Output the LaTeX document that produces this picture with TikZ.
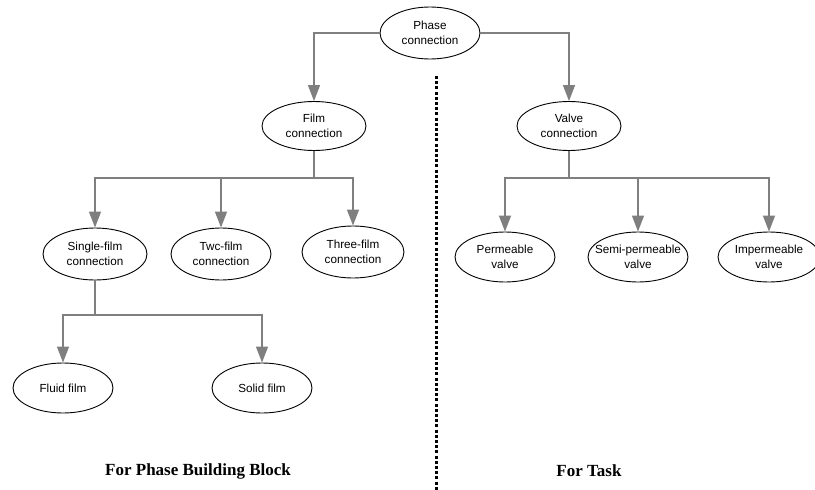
\documentclass[tikz,border=0pt]{standalone}
\usepackage{fontspec}
\setmainfont{Liberation Sans}
\newfontfamily\serifbold{Liberation Serif}
\usetikzlibrary{shapes.geometric,arrows.meta}
\definecolor{linkgray}{HTML}{7F7F7F}
\begin{document}
\begin{tikzpicture}[x=1pt,y=-1pt,
  oval/.style={ellipse,draw=black,line width=0.9pt,inner ysep=0pt,inner xsep=-16pt,
    minimum width=104pt,minimum height=50pt,align=center,
    font=\fontsize{11.7}{15}\selectfont},
  link/.style={draw=linkgray,line width=1.4pt},
  linkarrow/.style={link,-{Triangle[width=12pt,length=16pt]}},
  caption/.style={font=\serifbold\bfseries\fontsize{17}{20}\selectfont}]
\useasboundingbox (0,0) rectangle (815,490);

% tree nodes
\node[oval,minimum height=52pt,minimum width=100pt] (phase) at (430,33) {Phase\\connection};
\node[oval,minimum height=49pt] (film) at (314,126) {Film\\connection};
\node[oval,minimum height=49pt] (valve) at (569,126) {Valve\\connection};
\node[oval,minimum height=52pt] (single) at (95,254) {Single-film\\connection};
\node[oval,minimum height=52pt,minimum width=100pt] (two) at (221,254) {Twc-film\\connection};
\node[oval,minimum height=52pt,minimum width=102pt] (three) at (353,252) {Three-film\\connection};
\node[oval,minimum width=100pt] (perm) at (505,257) {Permeable\\valve};
\node[oval,minimum width=100pt] (semi) at (638,257) {Semi-permeable\\valve};
\node[oval,minimum width=102pt] (imperm) at (769,257) {Impermeable\\valve};
\node[oval,minimum width=100pt] (fluid) at (63,388) {Fluid film};
\node[oval,minimum width=100pt] (solid) at (262,388) {Solid film};

% branch points
\coordinate (filmj) at (314,178);
\coordinate (valvej) at (569,178);
\coordinate (singlej) at (95,315);

% connectors
\draw[linkarrow] (phase.west) -| (film.north);
\draw[linkarrow] (phase.east) -| (valve.north);
\draw[link] (film.south) -- (filmj);
\draw[linkarrow] (filmj) -| (single.north);
\draw[linkarrow] (filmj) -| (two.north);
\draw[linkarrow] (filmj) -| (three.north);
\draw[link] (valve.south) -- (valvej);
\draw[linkarrow] (valvej) -| (perm.north);
\draw[linkarrow] (valvej) -| (semi.north);
\draw[linkarrow] (valvej) -| (imperm.north);
\draw[link] (single.south) -- (singlej);
\draw[linkarrow] (singlej) -| (fluid.north);
\draw[linkarrow] (singlej) -| (solid.north);

% divider between the two halves
\coordinate (divtop) at (436,76);
\coordinate (divbot) at (436,490);
\draw[line width=3pt,dash pattern=on 3pt off 2.2pt] (divtop) -- (divbot);

% captions
\node[caption] (capleft) at (198,471) {For Phase Building Block};
\node[caption] (capright) at (589,471) {For Task};
\end{tikzpicture}
\end{document}
